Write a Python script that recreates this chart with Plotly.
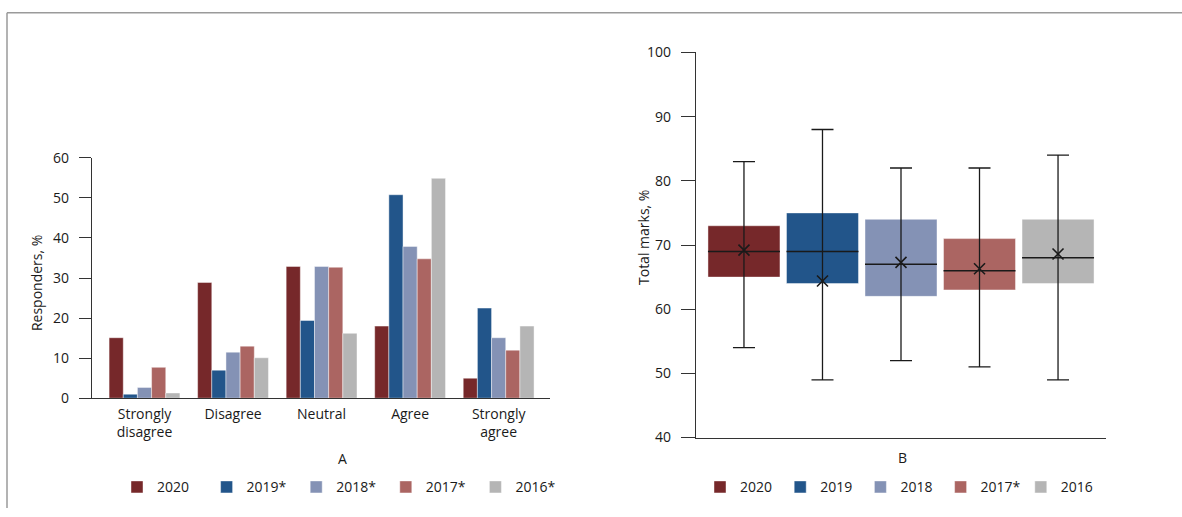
import plotly.graph_objects as go

# ---------------- data ----------------
categories = ["Strongly disagree", "Disagree", "Neutral", "Agree", "Strongly agree"]
category_labels = ["Strongly<br>disagree", "Disagree", "Neutral", "Agree", "Strongly<br>agree"]
survey_years = ["2020", "2019*", "2018*", "2017*", "2016*"]
resp_2020 = [15.1, 28.9, 32.9, 18.0, 5.0]
resp_2019 = [1.0, 7.0, 19.4, 50.8, 22.5]
resp_2018 = [2.7, 11.5, 32.9, 37.9, 15.1]
resp_2017 = [7.7, 13.0, 32.7, 34.8, 12.0]
resp_2016 = [1.3, 10.1, 16.2, 54.9, 18.0]
resp_ticks = [0, 10, 20, 30, 40, 50, 60]

mark_years = ["2020", "2019", "2018", "2017*", "2016"]
marks_min = [54, 49, 52, 51, 49]
marks_q1 = [65, 64, 62, 63, 64]
marks_median = [69, 69, 67, 66, 68]
marks_q3 = [73, 75, 74, 71, 74]
marks_max = [83, 88, 82, 82, 84]
marks_mean = [69.2, 64.4, 67.3, 66.3, 68.6]
marks_ticks = [40, 50, 60, 70, 80, 90, 100]

colors = ["#76282a", "#22558a", "#8492b5", "#ab6562", "#b5b5b5"]

# ---------------- geometry helpers ----------------
W, H = 1182, 517
VS, VOFF = 0.962, 10.7   # vertical compensation for the capture


def px(x):
    return x / W


def py(y):
    return 1 - (y / VS - VOFF) / H


FONT = "'Open Sans', Lato, sans-serif"
TXT = "#1a1a1a"
AX = "#333333"

fig = go.Figure()

# ---------------- panel A: grouped bars ----------------
resp_series = [resp_2020, resp_2019, resp_2018, resp_2017, resp_2016]
for name, vals, col in zip(survey_years, resp_series, colors):
    fig.add_trace(go.Bar(
        x=categories, y=vals, name=name,
        marker=dict(color=col, line=dict(color="rgba(255,255,255,0.55)", width=0.8)),
        xaxis="x", yaxis="y", legend="legend",
    ))

# ---------------- panel B: box-like plot ----------------
pos = list(range(len(mark_years)))
box_w = 0.917
for i, name in enumerate(mark_years):
    fig.add_trace(go.Bar(
        x=[pos[i]], y=[marks_q3[i] - marks_q1[i]], base=[marks_q1[i]],
        width=box_w, offsetgroup="box", name=name,
        marker=dict(color=colors[i], line=dict(color="rgba(255,255,255,0.55)", width=0.8)),
        xaxis="x2", yaxis="y2", legend="legend2",
    ))

fig.add_trace(go.Scatter(
    x=pos, y=marks_median, mode="markers",
    marker=dict(size=1, color="rgba(0,0,0,0)"),
    error_y=dict(type="data", symmetric=False,
                 array=[mx - md for mx, md in zip(marks_max, marks_median)],
                 arrayminus=[md - mn for md, mn in zip(marks_median, marks_min)],
                 color="#1a1a1a", thickness=1.3, width=11),
    error_x=dict(type="constant", value=box_w / 2, color="#1a1a1a", thickness=1.5, width=0),
    showlegend=False, xaxis="x2", yaxis="y2", hoverinfo="skip",
))
fig.add_trace(go.Scatter(
    x=pos, y=marks_mean, mode="markers",
    marker=dict(symbol="x-thin", size=11, line=dict(color="#1a1a1a", width=1.6)),
    showlegend=False, xaxis="x2", yaxis="y2",
))

# ---------------- layout ----------------
tickfont = dict(family=FONT, size=14, color=TXT)
fig.update_layout(
    width=W, height=H,
    margin=dict(l=0, r=0, t=0, b=0),
    paper_bgcolor="white", plot_bgcolor="white",
    barmode="group", bargap=0.2, bargroupgap=0,
    font=dict(family=FONT, size=14, color=TXT),
    xaxis=dict(domain=[px(92), px(550)], type="category", anchor="y",
               range=[-0.593, 4.58], tickvals=categories, ticktext=category_labels,
               showline=True, linecolor=AX, linewidth=1.3, ticks="",
               ticklabelstandoff=3,
               showgrid=False, zeroline=False, tickfont=tickfont, fixedrange=True),
    yaxis=dict(domain=[py(398), py(158)], range=[0, 60], tickvals=resp_ticks, anchor="x",
               showline=True, linecolor=AX, linewidth=1.3,
               ticks="outside", ticklen=12, tickwidth=1.3, tickcolor=AX,
               ticklabelstandoff=7,
               showgrid=False, zeroline=False, tickfont=tickfont, fixedrange=True),
    xaxis2=dict(domain=[px(696), px(1106)], range=[-0.611, 4.611], anchor="y2",
                showline=True, linecolor=AX, linewidth=1.3, ticks="",
                showticklabels=False, showgrid=False, zeroline=False, fixedrange=True),
    yaxis2=dict(domain=[py(437.3), py(52.7)], range=[40, 100], tickvals=marks_ticks,
                showline=True, linecolor=AX, linewidth=1.3,
                ticks="outside", ticklen=14, tickwidth=1.3, tickcolor=AX,
                ticklabelstandoff=7, anchor="x2",
                showgrid=False, zeroline=False, tickfont=tickfont, fixedrange=True),
    legend=dict(orientation="h", x=px(117), xanchor="left", y=py(487), yanchor="middle",
                entrywidth=44.6, entrywidthmode="pixels", bgcolor="rgba(0,0,0,0)",
                font=dict(family=FONT, size=14, color=TXT), traceorder="normal"),
    legend2=dict(orientation="h", x=px(700), xanchor="left", y=py(487), yanchor="middle",
                 entrywidth=35.2, entrywidthmode="pixels", bgcolor="rgba(0,0,0,0)",
                 font=dict(family=FONT, size=14, color=TXT), traceorder="normal"),
    annotations=[
        dict(text="A", x=px(342), y=py(458), xref="paper", yref="paper",
             showarrow=False, xanchor="center", yanchor="middle", font=dict(size=14)),
        dict(text="B", x=px(902), y=py(457), xref="paper", yref="paper",
             showarrow=False, xanchor="center", yanchor="middle", font=dict(size=14)),
        dict(text="Responders, %", x=px(36), y=py(283), xref="paper", yref="paper",
             textangle=-90, showarrow=False, xanchor="center", yanchor="middle",
             font=dict(size=14)),
        dict(text="Total marks, %", x=px(643), y=py(237), xref="paper", yref="paper",
             textangle=-90, showarrow=False, xanchor="center", yanchor="middle",
             font=dict(size=14)),
    ],
    shapes=[
        dict(type="line", xref="paper", yref="paper", x0=px(7), x1=1, y0=py(13), y1=py(13),
             line=dict(color="#9a9a9a", width=1.5)),
        dict(type="line", xref="paper", yref="paper", x0=px(7), x1=px(7), y0=0, y1=py(13),
             line=dict(color="#9a9a9a", width=1.5)),
    ],
)

fig.write_html(
    "out.html",
    config={"displayModeBar": False},
    post_script=(
        "document.documentElement.style.margin='0';"
        "document.body.style.margin='0';"
        "document.documentElement.style.overflow='hidden';"
        "document.body.style.overflow='hidden';"
    ),
)
